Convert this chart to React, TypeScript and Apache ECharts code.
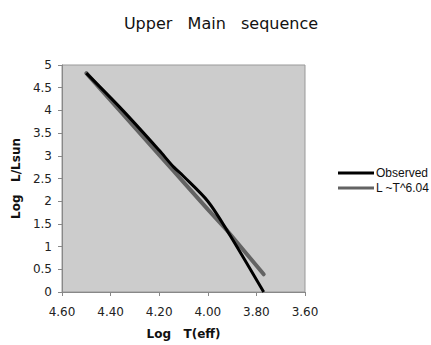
import React, { useEffect, useRef } from "react";
import * as echarts from "echarts";

const logT = [4.5, 4.35, 4.2, 4.14, 4.1, 4.0, 3.92, 3.77];
const observed = [4.82, 4.0, 3.12, 2.75, 2.55, 2.0, 1.35, 0.0];
const fitLine = [4.82, 3.92, 3.02, 2.66, 2.42, 1.82, 1.35, 0.39];
const seriesNames = ["Observed", "L ~T^6.04"];

export default function App() {
  const ref = useRef<HTMLDivElement>(null);
  useEffect(() => {
    if (!ref.current) return;
    const chart = echarts.init(ref.current, undefined, { renderer: "svg" });
    const font = "DejaVu Sans, Verdana, sans-serif";
    const legendFont = "Liberation Sans, Arial, sans-serif";
    chart.setOption({
      animation: false,
      backgroundColor: "#ffffff",
      textStyle: { fontFamily: font },
      title: {
        text: "Upper   Main   sequence",
        left: 216,
        top: 10,
        textAlign: "center",
        textStyle: { fontSize: 16, fontWeight: "normal", color: "#111", fontFamily: font },
      },
      legend: {
        orient: "vertical",
        left: 333,
        top: 162,
        itemWidth: 36,
        itemHeight: 3,
        itemGap: 3,
        icon: "rect",
        textStyle: { fontSize: 12, color: "#111", fontFamily: legendFont, padding: [0, 0, 0, -3] },
        data: seriesNames,
      },
      grid: {
        left: 62,
        right: 126,
        top: 65,
        bottom: 50,
        show: true,
        backgroundColor: "#cccccc",
        borderColor: "#999999",
        borderWidth: 1,
      },
      xAxis: {
        type: "value",
        min: 3.6,
        max: 4.6,
        interval: 0.2,
        inverse: true,
        name: "Log   T(eff)",
        nameLocation: "middle",
        nameGap: 36,
        nameTextStyle: { fontSize: 12, fontWeight: "bold", color: "#111", fontFamily: font },
        axisLine: { show: true, lineStyle: { color: "#888888" } },
        axisTick: { show: true, length: 4, lineStyle: { color: "#888888" } },
        splitLine: { show: false },
        axisLabel: {
          fontSize: 12,
          color: "#222",
          margin: 14,
          formatter: (v: number) => v.toFixed(2),
        },
      },
      yAxis: {
        type: "value",
        min: 0,
        max: 5,
        interval: 0.5,
        name: "Log   L/Lsun",
        nameLocation: "middle",
        nameGap: 35,
        nameTextStyle: { fontSize: 12, fontWeight: "bold", color: "#111", fontFamily: font },
        axisLine: { show: true, lineStyle: { color: "#888888" } },
        axisTick: { show: true, length: 4, lineStyle: { color: "#888888" } },
        splitLine: { show: false },
        axisLabel: { fontSize: 12, color: "#222", margin: 10 },
      },
      series: [
        {
          name: seriesNames[1],
          type: "line",
          data: logT.map((x, i) => [x, fitLine[i]]),
          showSymbol: false,
          symbol: "none",
          lineStyle: { color: "#636363", width: 4, cap: "round" },
          itemStyle: { color: "#636363" },
          z: 2,
        },
        {
          name: seriesNames[0],
          type: "line",
          data: logT.map((x, i) => [x, observed[i]]),
          smooth: 0.3,
          showSymbol: false,
          symbol: "none",
          lineStyle: { color: "#000000", width: 3 },
          itemStyle: { color: "#000000" },
          z: 3,
        },
      ],
    });
    return () => chart.dispose();
  }, []);
  return (
    <div
      ref={ref}
      style={{ position: "fixed", left: 0, top: 0, width: 431, height: 345 }}
    />
  );
}
